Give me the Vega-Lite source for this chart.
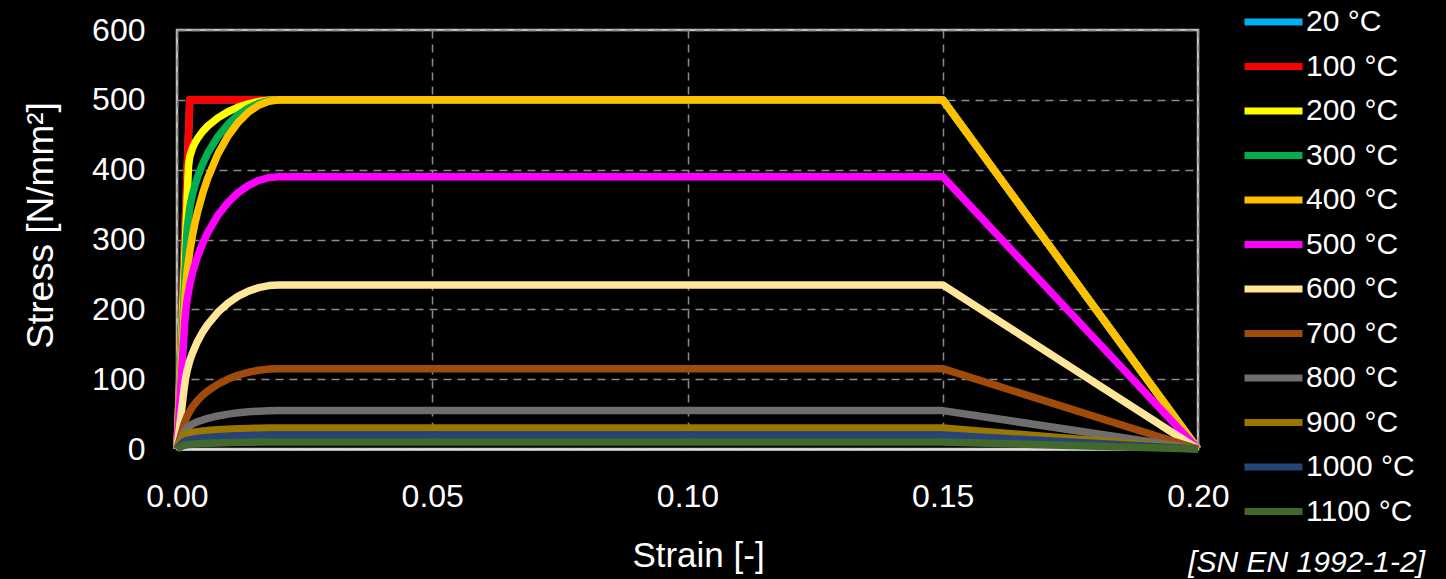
{
  "$schema": "https://vega.github.io/schema/vega-lite/v6.json",
  "background": "black",
  "autosize": "none",
  "width": 1021,
  "height": 419,
  "padding": {"left": 177, "top": 30, "right": 248, "bottom": 130},
  "title": {
    "text": "[SN EN 1992-1-2]",
    "orient": "bottom",
    "anchor": "end",
    "frame": "group",
    "font": "Liberation Sans",
    "fontSize": 30,
    "fontStyle": "italic",
    "fontWeight": "normal",
    "color": "white",
    "dx": 227,
    "offset": -25
  },
  "config": {
    "view": {"stroke": "#bfbfbf", "strokeWidth": 2.5},
    "font": "Liberation Sans",
    "axis": {
      "labelFont": "Liberation Sans",
      "titleFont": "Liberation Sans",
      "labelColor": "white",
      "titleColor": "white",
      "labelFontSize": 32,
      "titleFontWeight": "normal",
      "ticks": false,
      "gridColor": "#8c8c8c",
      "gridDash": [8, 6],
      "gridWidth": 1.5
    }
  },
  "data": {
    "values": [
      {"T": "20 °C", "e": 0, "s": 0},
      {"T": "20 °C", "e": 0.0025, "s": 500},
      {"T": "20 °C", "e": 0.15, "s": 500},
      {"T": "20 °C", "e": 0.2, "s": 0},

      {"T": "100 °C", "e": 0, "s": 0},
      {"T": "100 °C", "e": 0.0025, "s": 500},
      {"T": "100 °C", "e": 0.15, "s": 500},
      {"T": "100 °C", "e": 0.2, "s": 0},

      {"T": "200 °C", "e": 0, "s": 0},
      {"T": "200 °C", "e": 0.00225, "s": 405},
      {"T": "200 °C", "e": 0.0025, "s": 418.7},
      {"T": "200 °C", "e": 0.003, "s": 430.3},
      {"T": "200 °C", "e": 0.0035, "s": 438.2},
      {"T": "200 °C", "e": 0.004, "s": 444.5},
      {"T": "200 °C", "e": 0.005, "s": 454.5},
      {"T": "200 °C", "e": 0.006, "s": 462.3},
      {"T": "200 °C", "e": 0.008, "s": 474.2},
      {"T": "200 °C", "e": 0.01, "s": 483.0},
      {"T": "200 °C", "e": 0.012, "s": 489.5},
      {"T": "200 °C", "e": 0.014, "s": 494.2},
      {"T": "200 °C", "e": 0.016, "s": 497.5},
      {"T": "200 °C", "e": 0.018, "s": 499.4},
      {"T": "200 °C", "e": 0.02, "s": 500},
      {"T": "200 °C", "e": 0.15, "s": 500},
      {"T": "200 °C", "e": 0.2, "s": 0},

      {"T": "300 °C", "e": 0, "s": 0},
      {"T": "300 °C", "e": 0.0019, "s": 305},
      {"T": "300 °C", "e": 0.002, "s": 316.0},
      {"T": "300 °C", "e": 0.0025, "s": 345.2},
      {"T": "300 °C", "e": 0.003, "s": 363.2},
      {"T": "300 °C", "e": 0.0035, "s": 377.2},
      {"T": "300 °C", "e": 0.004, "s": 388.9},
      {"T": "300 °C", "e": 0.005, "s": 408.0},
      {"T": "300 °C", "e": 0.006, "s": 423.5},
      {"T": "300 °C", "e": 0.008, "s": 447.4},
      {"T": "300 °C", "e": 0.01, "s": 465.2},
      {"T": "300 °C", "e": 0.012, "s": 478.5},
      {"T": "300 °C", "e": 0.014, "s": 488.2},
      {"T": "300 °C", "e": 0.016, "s": 494.8},
      {"T": "300 °C", "e": 0.018, "s": 498.7},
      {"T": "300 °C", "e": 0.02, "s": 500},
      {"T": "300 °C", "e": 0.15, "s": 500},
      {"T": "300 °C", "e": 0.2, "s": 0},

      {"T": "400 °C", "e": 0, "s": 0},
      {"T": "400 °C", "e": 0.0015, "s": 210},
      {"T": "400 °C", "e": 0.0017, "s": 232.0},
      {"T": "400 °C", "e": 0.002, "s": 254.9},
      {"T": "400 °C", "e": 0.0025, "s": 282.8},
      {"T": "400 °C", "e": 0.003, "s": 304.6},
      {"T": "400 °C", "e": 0.0035, "s": 322.8},
      {"T": "400 °C", "e": 0.004, "s": 338.6},
      {"T": "400 °C", "e": 0.005, "s": 365.3},
      {"T": "400 °C", "e": 0.006, "s": 387.4},
      {"T": "400 °C", "e": 0.008, "s": 422.2},
      {"T": "400 °C", "e": 0.01, "s": 448.3},
      {"T": "400 °C", "e": 0.012, "s": 467.9},
      {"T": "400 °C", "e": 0.014, "s": 482.4},
      {"T": "400 °C", "e": 0.016, "s": 492.3},
      {"T": "400 °C", "e": 0.018, "s": 498.1},
      {"T": "400 °C", "e": 0.02, "s": 500},
      {"T": "400 °C", "e": 0.15, "s": 500},
      {"T": "400 °C", "e": 0.2, "s": 0},

      {"T": "500 °C", "e": 0, "s": 0},
      {"T": "500 °C", "e": 0.0015, "s": 180},
      {"T": "500 °C", "e": 0.0017, "s": 197.6},
      {"T": "500 °C", "e": 0.002, "s": 214.7},
      {"T": "500 °C", "e": 0.0025, "s": 235.0},
      {"T": "500 °C", "e": 0.003, "s": 250.7},
      {"T": "500 °C", "e": 0.0035, "s": 263.8},
      {"T": "500 °C", "e": 0.004, "s": 275.1},
      {"T": "500 °C", "e": 0.005, "s": 294.2},
      {"T": "500 °C", "e": 0.006, "s": 309.9},
      {"T": "500 °C", "e": 0.008, "s": 334.7},
      {"T": "500 °C", "e": 0.01, "s": 353.2},
      {"T": "500 °C", "e": 0.012, "s": 367.2},
      {"T": "500 °C", "e": 0.014, "s": 377.5},
      {"T": "500 °C", "e": 0.016, "s": 384.5},
      {"T": "500 °C", "e": 0.018, "s": 388.6},
      {"T": "500 °C", "e": 0.02, "s": 390},
      {"T": "500 °C", "e": 0.15, "s": 390},
      {"T": "500 °C", "e": 0.2, "s": 0},

      {"T": "600 °C", "e": 0, "s": 0},
      {"T": "600 °C", "e": 0.00145, "s": 90},
      {"T": "600 °C", "e": 0.0017, "s": 102.2},
      {"T": "600 °C", "e": 0.002, "s": 112.8},
      {"T": "600 °C", "e": 0.0025, "s": 126.3},
      {"T": "600 °C", "e": 0.003, "s": 136.9},
      {"T": "600 °C", "e": 0.004, "s": 153.8},
      {"T": "600 °C", "e": 0.005, "s": 167.2},
      {"T": "600 °C", "e": 0.006, "s": 178.2},
      {"T": "600 °C", "e": 0.008, "s": 195.7},
      {"T": "600 °C", "e": 0.01, "s": 208.9},
      {"T": "600 °C", "e": 0.012, "s": 218.8},
      {"T": "600 °C", "e": 0.014, "s": 226.1},
      {"T": "600 °C", "e": 0.016, "s": 231.1},
      {"T": "600 °C", "e": 0.018, "s": 234.0},
      {"T": "600 °C", "e": 0.02, "s": 235},
      {"T": "600 °C", "e": 0.15, "s": 235},
      {"T": "600 °C", "e": 0.2, "s": 0},

      {"T": "700 °C", "e": 0, "s": 0},
      {"T": "700 °C", "e": 0.00135, "s": 35},
      {"T": "700 °C", "e": 0.002, "s": 47.6},
      {"T": "700 °C", "e": 0.003, "s": 60.1},
      {"T": "700 °C", "e": 0.004, "s": 69.3},
      {"T": "700 °C", "e": 0.005, "s": 76.7},
      {"T": "700 °C", "e": 0.006, "s": 82.8},
      {"T": "700 °C", "e": 0.008, "s": 92.7},
      {"T": "700 °C", "e": 0.01, "s": 100.1},
      {"T": "700 °C", "e": 0.012, "s": 105.8},
      {"T": "700 °C", "e": 0.014, "s": 109.9},
      {"T": "700 °C", "e": 0.016, "s": 112.8},
      {"T": "700 °C", "e": 0.018, "s": 114.4},
      {"T": "700 °C", "e": 0.02, "s": 115},
      {"T": "700 °C", "e": 0.15, "s": 115},
      {"T": "700 °C", "e": 0.2, "s": 0},

      {"T": "800 °C", "e": 0, "s": 0},
      {"T": "800 °C", "e": 0.00139, "s": 25},
      {"T": "800 °C", "e": 0.002, "s": 30.8},
      {"T": "800 °C", "e": 0.003, "s": 35.6},
      {"T": "800 °C", "e": 0.004, "s": 39.0},
      {"T": "800 °C", "e": 0.006, "s": 43.8},
      {"T": "800 °C", "e": 0.008, "s": 47.3},
      {"T": "800 °C", "e": 0.01, "s": 49.9},
      {"T": "800 °C", "e": 0.012, "s": 51.8},
      {"T": "800 °C", "e": 0.014, "s": 53.2},
      {"T": "800 °C", "e": 0.016, "s": 54.2},
      {"T": "800 °C", "e": 0.018, "s": 54.8},
      {"T": "800 °C", "e": 0.02, "s": 55},
      {"T": "800 °C", "e": 0.15, "s": 55},
      {"T": "800 °C", "e": 0.2, "s": 0},

      {"T": "900 °C", "e": 0, "s": 0},
      {"T": "900 °C", "e": 0.00143, "s": 20},
      {"T": "900 °C", "e": 0.002, "s": 22.2},
      {"T": "900 °C", "e": 0.003, "s": 23.8},
      {"T": "900 °C", "e": 0.004, "s": 24.9},
      {"T": "900 °C", "e": 0.006, "s": 26.4},
      {"T": "900 °C", "e": 0.008, "s": 27.5},
      {"T": "900 °C", "e": 0.01, "s": 28.4},
      {"T": "900 °C", "e": 0.012, "s": 29.0},
      {"T": "900 °C", "e": 0.014, "s": 29.4},
      {"T": "900 °C", "e": 0.016, "s": 29.75},
      {"T": "900 °C", "e": 0.018, "s": 29.9},
      {"T": "900 °C", "e": 0.02, "s": 30},
      {"T": "900 °C", "e": 0.15, "s": 30},
      {"T": "900 °C", "e": 0.2, "s": 0},

      {"T": "1000 °C", "e": 0, "s": 0},
      {"T": "1000 °C", "e": 0.00125, "s": 10},
      {"T": "1000 °C", "e": 0.002, "s": 12.3},
      {"T": "1000 °C", "e": 0.003, "s": 13.8},
      {"T": "1000 °C", "e": 0.004, "s": 14.9},
      {"T": "1000 °C", "e": 0.006, "s": 16.4},
      {"T": "1000 °C", "e": 0.008, "s": 17.5},
      {"T": "1000 °C", "e": 0.01, "s": 18.35},
      {"T": "1000 °C", "e": 0.012, "s": 19.0},
      {"T": "1000 °C", "e": 0.014, "s": 19.4},
      {"T": "1000 °C", "e": 0.016, "s": 19.75},
      {"T": "1000 °C", "e": 0.018, "s": 19.9},
      {"T": "1000 °C", "e": 0.02, "s": 20},
      {"T": "1000 °C", "e": 0.15, "s": 20},
      {"T": "1000 °C", "e": 0.2, "s": 0},

      {"T": "1100 °C", "e": 0, "s": 0},
      {"T": "1100 °C", "e": 0.00125, "s": 5},
      {"T": "1100 °C", "e": 0.002, "s": 6.15},
      {"T": "1100 °C", "e": 0.003, "s": 6.9},
      {"T": "1100 °C", "e": 0.004, "s": 7.45},
      {"T": "1100 °C", "e": 0.006, "s": 8.2},
      {"T": "1100 °C", "e": 0.008, "s": 8.75},
      {"T": "1100 °C", "e": 0.01, "s": 9.18},
      {"T": "1100 °C", "e": 0.012, "s": 9.5},
      {"T": "1100 °C", "e": 0.014, "s": 9.7},
      {"T": "1100 °C", "e": 0.016, "s": 9.9},
      {"T": "1100 °C", "e": 0.018, "s": 9.97},
      {"T": "1100 °C", "e": 0.02, "s": 10},
      {"T": "1100 °C", "e": 0.15, "s": 10},
      {"T": "1100 °C", "e": 0.2, "s": 0}
    ]
  },
  "mark": {"type": "line", "strokeWidth": 7.5, "strokeJoin": "round", "strokeCap": "butt"},
  "encoding": {
    "x": {
      "field": "e",
      "type": "quantitative",
      "scale": {"domain": [0, 0.2], "nice": false, "zero": false},
      "axis": {
        "title": "Strain [-]",
        "titleFontSize": 35,
        "titlePadding": 26,
        "titleX": 521,
        "values": [0, 0.05, 0.1, 0.15, 0.2],
        "format": ".2f",
        "labelPadding": 32,
        "domainColor": "#d9d9d9",
        "domainWidth": 2.5,
        "labelFlush": false
      }
    },
    "y": {
      "field": "s",
      "type": "quantitative",
      "scale": {"domain": [0, 600], "nice": false},
      "axis": {
        "title": "Stress [N/mm²]",
        "titleFontSize": 37,
        "titleX": -125,
        "titleY": 195,
        "titleBaseline": "alphabetic",
        "titleAngle": -90,
        "titleAlign": "center",
        "values": [0, 100, 200, 300, 400, 500, 600],
        "labelPadding": 32,
        "domain": false
      }
    },
    "color": {
      "field": "T",
      "type": "nominal",
      "sort": null,
      "scale": {
        "domain": ["20 °C", "100 °C", "200 °C", "300 °C", "400 °C", "500 °C", "600 °C", "700 °C", "800 °C", "900 °C", "1000 °C", "1100 °C"],
        "range": ["#00b0f0", "#ff0000", "#ffff00", "#00b050", "#ffc000", "#ff00ff", "#ffe699", "#a04a0c", "#6e6e6e", "#9c7700", "#264478", "#43682b"]
      },
      "legend": {
        "title": null,
        "orient": "none",
        "legendX": 1064,
        "legendY": -30,
        "padding": 0,
        "symbolType": "stroke",
        "symbolSize": 3364,
        "symbolStrokeWidth": 7,
        "clipHeight": 44,
        "rowPadding": 0.5,
        "labelFontSize": 30,
        "labelFont": "Liberation Sans",
        "labelColor": "white",
        "labelOffset": 0,
        "labelLimit": 300
      }
    }
  }
}
